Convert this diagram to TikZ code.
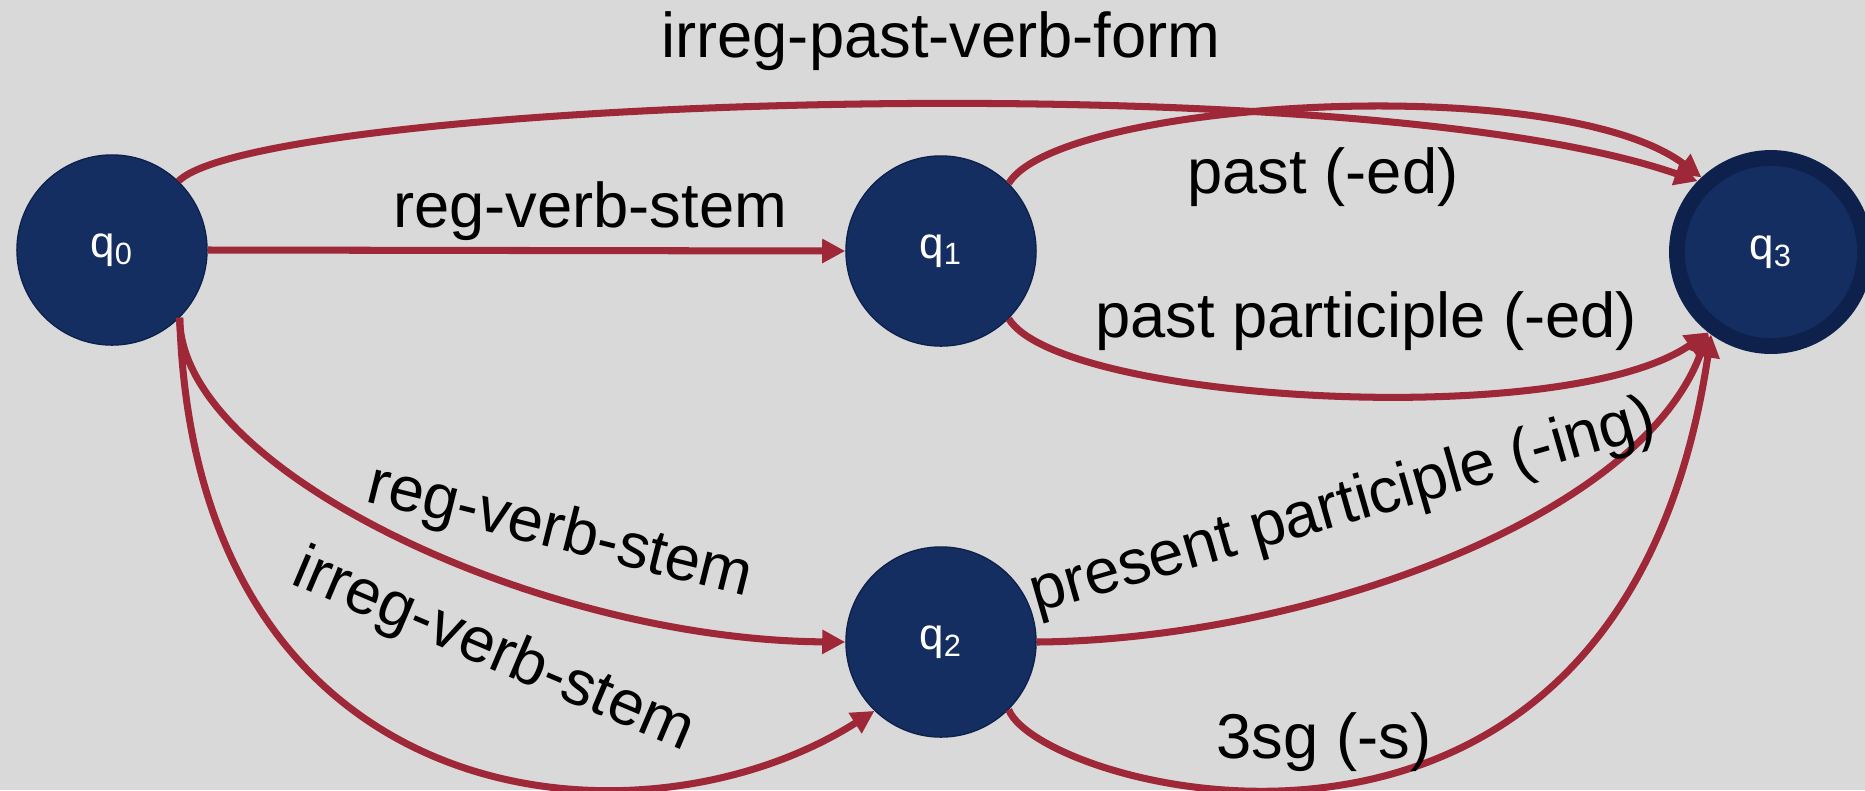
\documentclass[tikz,border=0pt]{standalone}
\usepackage{fontspec}
\setmainfont{Liberation Sans}
\usetikzlibrary{arrows.meta}
\definecolor{bgGray}{RGB}{217,217,217}
\definecolor{stateFill}{RGB}{21,46,98}
\definecolor{stateLine}{RGB}{14,33,76}
\definecolor{transRed}{RGB}{158,40,56}

\begin{document}
\begin{tikzpicture}[x=0.01cm,y=-0.01cm,
  state/.style={circle,fill=stateFill,draw=stateLine,line width=0.4pt,
    minimum size=1.9cm,inner sep=0pt,text=white,font=\fontsize{12.5}{15}\selectfont},
  accept/.style={state,line width=4.5pt,minimum size=1.88cm},
  trans/.style={transRed,line width=2pt,-{Triangle[length=0.23cm,width=0.23cm]}},
  lbl/.style={font=\fontsize{18}{22}\selectfont,inner sep=0pt}]
  \useasboundingbox (0,0) rectangle (1865,790);
  \fill[bgGray] (0,0) rectangle (1865,790);

  \node[state] (q0) at (112,250) {q\textsubscript{0}};
  \node[state] (q1) at (941,251) {q\textsubscript{1}};
  \node[state] (q2) at (941,642) {q\textsubscript{2}};
  \node[accept] (q3) at (1771,252) {q\textsubscript{3}};

  \draw[trans] (q0.east) -- (q1.west);
  \draw[trans] (q0.46) .. controls (260,100) and (1350,60) .. (q3.136);
  \draw[trans] (q1.45) .. controls (1060,100) and (1560,70) .. (q3.133);
  \draw[trans] (q1.-45) .. controls (1060,402) and (1565,432) .. (q3.-128);
  \draw[trans] (q0.-45) .. controls (179,470) and (540,640) .. (q2.west);
  \draw[trans] (q0.-45) .. controls (195,820) and (640,860) .. (q2.-134);
  \draw[trans] (q2.east) .. controls (1300,640) and (1640,520) .. (q3.-128);
  \draw[trans] (q2.-45) .. controls (1040,790) and (1620,950) .. (q3.-126);

  \node[lbl,anchor=base] (lIrregPast) at (941,57) {irreg-past-verb-form};
  \node[lbl,anchor=base] (lRegA) at (590,227) {reg-verb-stem};
  \node[lbl,anchor=base] (lPast) at (1323,193) {past (-ed)};
  \node[lbl,anchor=base] (lPastPart) at (1366,337) {past participle (-ed)};
  \node[lbl,anchor=base] (l3sg) at (1324,758) {3sg (-s)};
  \node[lbl,rotate=-14] (lRegB) at (560,533) {reg-verb-stem};
  \node[lbl,rotate=-23] (lIrregStem) at (493,652) {irreg-verb-stem};
  \node[lbl,rotate=16] (lPresPart) at (1343,508) {present participle (-ing)};
\end{tikzpicture}
\end{document}
